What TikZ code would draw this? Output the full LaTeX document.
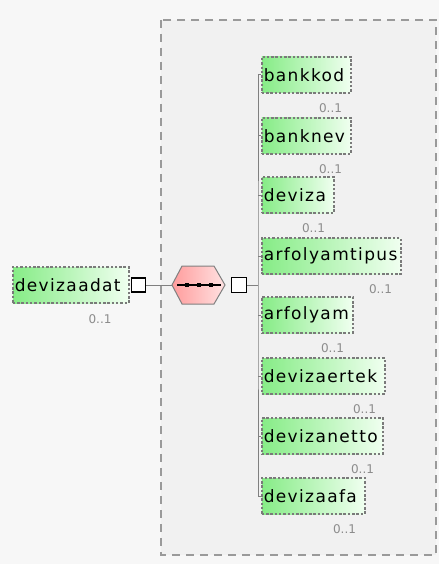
\documentclass[tikz,border=0pt]{standalone}
\usepackage{fontspec}
\setmainfont{DejaVu Sans}
\newfontfamily\elfont[LetterSpace=8]{DejaVu Sans}
\usetikzlibrary{calc}
\definecolor{bgc}{HTML}{F7F7F7}
\definecolor{grpc}{HTML}{F1F1F1}
\definecolor{grpline}{HTML}{9A9A9A}
\definecolor{elline}{HTML}{7A7A7A}
\definecolor{gA}{HTML}{86EC86}
\definecolor{gB}{HTML}{F0FFF0}
\definecolor{pA}{HTML}{FF9C9C}
\definecolor{pB}{HTML}{FFE2E2}
\definecolor{cardc}{HTML}{8C8C8C}
\definecolor{connc}{HTML}{808080}
\tikzset{
  elem/.style={draw=elline, dash pattern=on 2.5pt off 1.8pt, line width=1.5pt,
    left color=gA, right color=gB, minimum height=36pt, inner xsep=2pt, inner ysep=0pt,
    anchor=west, align=left, font=\elfont\fontsize{17}{20}\selectfont, text=black},
  card/.style={font=\fontsize{12}{14}\selectfont, text=cardc, inner sep=0pt},
  conn/.style={draw=connc, line width=1pt},
  sqbox/.style={draw=black, line width=1.5pt, fill=white, minimum size=14pt, inner sep=0pt},
  grpbox/.style={draw=grpline, line width=1.5pt, dash pattern=on 8pt off 6pt, fill=grpc}
}
\begin{document}
\begin{tikzpicture}[x=1pt,y=-1pt]
\useasboundingbox (0,0) rectangle (439,564);
\fill[bgc] (0,0) rectangle (439,564);
% group box
\path[grpbox] (161,20) rectangle (436,555);
% root element
\node[elem, text width=112pt] (devizaadat) at (12,285) {devizaadat};
\node[card] (c0) at (100,319) {0..1};
\node[sqbox] (sq1) at (138.5,285) {};
% sequence compositor
\coordinate (seqW) at (172,285);
\coordinate (seqE) at (225,285);
\path[draw=connc, line width=1pt, left color=pA, right color=pB]
  (seqW) -- (182,266) -- (214,266) -- (seqE) -- (214,304) -- (182,304) -- cycle;
\draw[black, line width=1.4pt] (177,285) -- (221,285);
\foreach \dx in {187,199,211} {\fill[black] (\dx-2.2,282.8) rectangle (\dx+2.2,287.2);}
\node[sqbox, minimum size=15pt] (sq2) at (239,285) {};
\coordinate (spine) at (258,285);
\draw[conn] (sq1.east) -- (seqW);
\draw[conn] (sq2.east) -- (spine);
% children
\node[elem, text width=85pt] (bankkod) at (261,75) {bankkod};
\node[elem, text width=85pt] (banknev) at (261,136) {banknev};
\node[elem, text width=68pt] (deviza) at (261,195) {deviza};
\node[elem, text width=135pt] (arfolyamtipus) at (261,256) {arfolyamtipus};
\node[elem, text width=87pt] (arfolyam) at (261,315) {arfolyam};
\node[elem, text width=119pt] (devizaertek) at (261,376) {devizaertek};
\node[elem, text width=117pt] (devizanetto) at (261,436) {devizanetto};
\node[elem, text width=99pt] (devizaafa) at (261,496) {devizaafa};
\foreach \n in {bankkod,banknev,deviza,arfolyamtipus,arfolyam,devizaertek,devizanetto,devizaafa} {
  \node[card] (card-\n) at ($(\n.south east)+(-21,14)$) {0..1};
}
\draw[conn] (bankkod.west) -| (spine) |- (devizaafa.west);
\foreach \n in {banknev,deviza,arfolyamtipus,arfolyam,devizaertek,devizanetto} {
  \draw[conn] (\n.west) -- (\n.west -| spine);
}
\end{tikzpicture}
\end{document}
